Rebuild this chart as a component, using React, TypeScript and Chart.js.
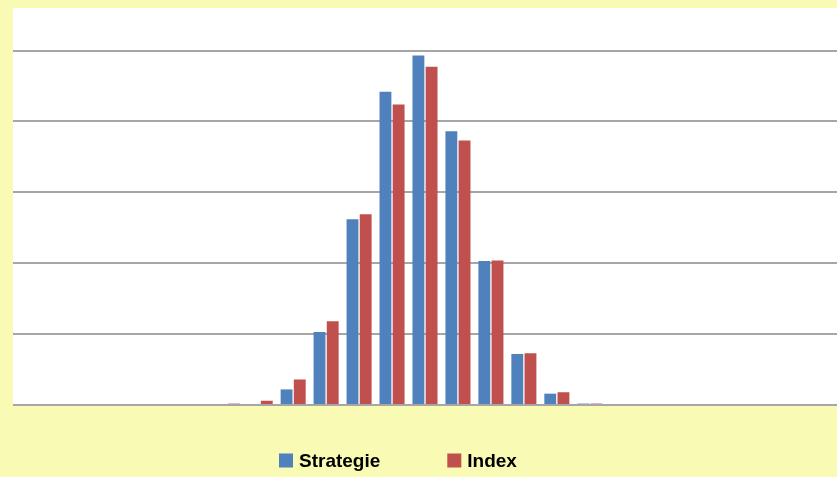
import React, { useEffect, useRef } from "react";
import { Chart, registerables } from "chart.js";

Chart.register(...registerables);

const categories = [
  "-12%", "-11%", "-10%", "-9%", "-8%", "-7%", "-6%", "-5%", "-4%", "-3%", "-2%", "-1%", "0%",
  "1%", "2%", "3%", "4%", "5%", "6%", "7%", "8%", "9%", "10%", "11%", "12%",
];
const strategieValues = [
  0, 0, 0, 0, 0, 0, 0, 0, 1.1, 5.15, 13.1, 22.1, 24.65, 19.3, 10.15, 3.6, 0.8, 0.1,
  0, 0, 0, 0, 0, 0, 0,
];
const indexValues = [
  0, 0, 0, 0, 0, 0, 0.1, 0.3, 1.8, 5.9, 13.45, 21.2, 23.85, 18.65, 10.2, 3.65, 0.9, 0.1,
  0, 0, 0, 0, 0, 0, 0,
];
const seriesNames = ["Strategie", "Index"];
const yTickStep = 5;
const yTickTop = 25;
const yMax = 28;

const PAGE_BG = "#F9FAB4";
const BLUE = "#4F81BD";
const RED = "#C0504D";

const bgPlugin = {
  id: "bgPlugin",
  beforeDraw(chart: any) {
    const { ctx, chartArea, width, height } = chart;
    ctx.save();
    ctx.fillStyle = PAGE_BG;
    ctx.fillRect(0, 0, width, height);
    ctx.fillStyle = "#FFFFFF";
    ctx.fillRect(chartArea.left, chartArea.top, chartArea.right - chartArea.left, chartArea.bottom - chartArea.top);
    ctx.restore();
  },
};

const legendPlugin = {
  id: "customLegend",
  afterDraw(chart: any) {
    const { ctx } = chart;
    const font = "bold 19px 'Liberation Sans', Arial, sans-serif";
    const box = 14;
    const textGap = 6;
    const itemGap = 67;
    const startX = 279;
    const centerY = 460.5;
    ctx.save();
    ctx.font = font;
    ctx.textBaseline = "middle";
    ctx.textAlign = "left";
    let x = startX;
    chart.data.datasets.forEach((ds: any) => {
      ctx.fillStyle = ds.backgroundColor;
      ctx.fillRect(x, centerY - box / 2, box, box);
      ctx.fillStyle = "#000000";
      const tx = x + box + textGap;
      ctx.fillText(ds.label, tx, centerY + 1);
      const w = ctx.measureText(ds.label).width;
      x = tx + w + itemGap;
    });
    ctx.restore();
  },
};

export default function App() {
  const canvasRef = useRef<HTMLCanvasElement | null>(null);

  useEffect(() => {
    if (!canvasRef.current) return;
    const chart = new Chart(canvasRef.current, {
      type: "bar",
      data: {
        labels: categories,
        datasets: [
          {
            label: seriesNames[0],
            data: strategieValues,
            backgroundColor: BLUE,
            borderWidth: 0,
            categoryPercentage: 0.8,
            barPercentage: 0.9,
          },
          {
            label: seriesNames[1],
            data: indexValues,
            backgroundColor: RED,
            borderWidth: 0,
            categoryPercentage: 0.8,
            barPercentage: 0.9,
          },
        ],
      },
      options: {
        animation: false,
        responsive: true,
        maintainAspectRatio: false,
        layout: { padding: { left: 13, top: 8, right: 0, bottom: 72 } },
        plugins: {
          legend: { display: false },
          title: { display: false },
          tooltip: { enabled: false },
        },
        scales: {
          x: {
            offset: true,
            grid: { display: false, drawTicks: false },
            border: { display: false },
            ticks: { display: false },
          },
          y: {
            min: 0,
            max: yMax,
            afterBuildTicks: (scale: any) => {
              scale.ticks = scale.ticks.filter((t: any) => t.value <= yTickTop);
            },
            ticks: { display: false, stepSize: yTickStep },
            grid: { color: "#A6A6A6", lineWidth: 2, drawTicks: false },
            border: { display: false },
          },
        },
      },
      plugins: [bgPlugin, legendPlugin],
    });
    return () => chart.destroy();
  }, []);

  return (
    <div
      style={{
        position: "fixed",
        left: 0,
        top: 0,
        width: 837,
        height: 477,
        background: PAGE_BG,
      }}
    >
      <canvas ref={canvasRef} />
    </div>
  );
}
